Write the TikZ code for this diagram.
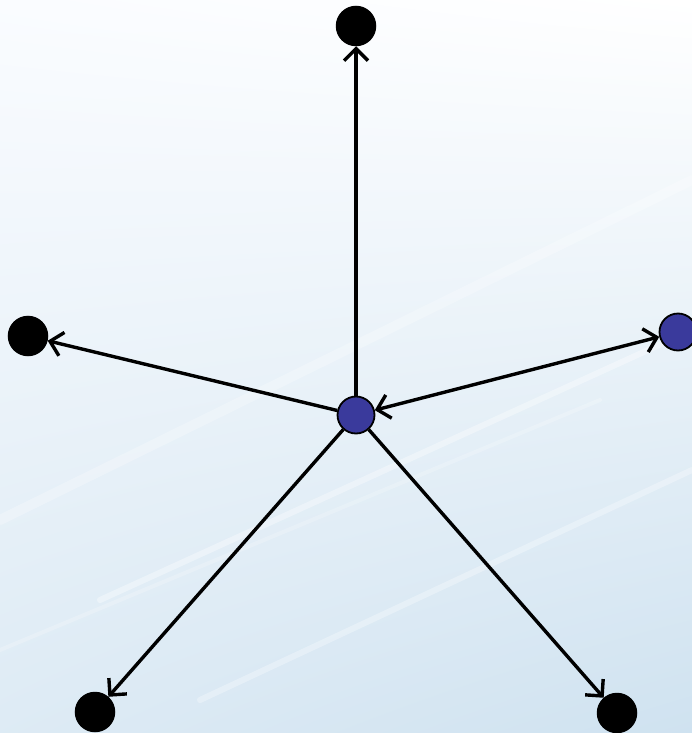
\documentclass[tikz,border=0pt]{standalone}
\usetikzlibrary{arrows.meta,shadings}
\definecolor{nodeblue}{HTML}{3A3A9C}
\definecolor{bgblue}{HTML}{CFE2F0}
\definecolor{bgwhite}{HTML}{FAFCFF}
\begin{document}
\begin{tikzpicture}[x=1pt,y=-1pt,
  blacknode/.style={circle,fill=black,draw=black,line width=1.5pt,minimum size=39pt,inner sep=0pt},
  bluenode/.style={circle,fill=nodeblue,draw=black,line width=1.8pt,minimum size=37pt,inner sep=0pt},
  tip/.tip={Straight Barb[length=12pt,width=24pt]},
  edge/.style={line width=3.4pt,-tip},
  biedge/.style={line width=3.4pt,tip-tip},
  streak/.style={white,opacity=0.35,line width=6pt,line cap=round}]
\useasboundingbox (0,0) rectangle (692,733);
\shade[upper left=bgwhite,upper right=white,lower left=bgblue!70,lower right=bgblue] (0,0) rectangle (692,733);
\draw[streak] (100,600) -- (692,330);
\draw[streak,opacity=0.25,line width=10pt] (0,520) -- (692,180);
\draw[streak,opacity=0.3] (200,700) -- (692,470);
\draw[streak,opacity=0.2,line width=4pt] (0,650) -- (600,400);
\node[bluenode] (c) at (356,415) {};
\node[blacknode] (t) at (356,26) {};
\node[blacknode] (l) at (28,336) {};
\node[bluenode] (r) at (678,332) {};
\node[blacknode] (bl) at (95,712) {};
\node[blacknode] (br) at (617,713) {};
\draw[edge] (c) -- (t);
\draw[edge] (c) -- (l);
\draw[biedge] (c) -- (r);
\draw[edge] (c) -- (bl);
\draw[edge] (c) -- (br);
\end{tikzpicture}
\end{document}
